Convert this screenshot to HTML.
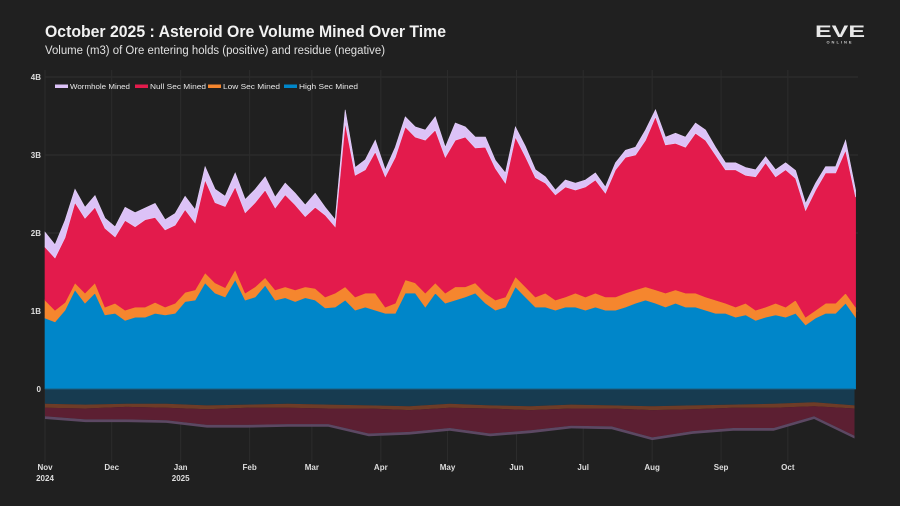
<!DOCTYPE html>
<html><head><meta charset="utf-8">
<style>
html,body{margin:0;padding:0;background:#202020;}
svg{display:block;}
text{font-family:"Liberation Sans",sans-serif;}
</style></head>
<body>
<svg id="chart" width="900" height="506" viewBox="0 0 900 506">
  <rect x="0" y="0" width="900" height="506" fill="#202020"/>
  <text x="45" y="37" font-size="17" font-weight="bold" fill="#f2f2f2" textLength="401" lengthAdjust="spacingAndGlyphs">October 2025 : Asteroid Ore Volume Mined Over Time</text>
  <text x="45" y="54" font-size="11.5" fill="#e0e0e0" textLength="340" lengthAdjust="spacingAndGlyphs">Volume (m3) of Ore entering holds (positive) and residue (negative)</text>
  <g>
    <text x="840" y="37" font-size="17" font-weight="bold" fill="#e8e8e8" text-anchor="middle" textLength="50" lengthAdjust="spacingAndGlyphs">EVE</text>
    <text x="840" y="43.5" font-size="4" font-weight="bold" fill="#cfcfcf" text-anchor="middle" letter-spacing="2">ONLINE</text>
  </g>
  <g id="grid"></g>
  <g id="areas"></g>
  <g id="axes"></g>
  <g id="legend"></g>
</svg>
<script>
// ---- data (values in billions of m3) ----
const stepDays = 4.5;
const highSec = [0.91,0.86,1.01,1.27,1.10,1.23,0.95,0.97,0.88,0.92,0.92,0.97,0.95,0.97,1.12,1.14,1.36,1.23,1.18,1.40,1.14,1.18,1.33,1.14,1.17,1.12,1.17,1.14,1.04,1.05,1.14,1.01,1.05,1.01,0.97,0.97,1.23,1.23,1.05,1.23,1.10,
 1.14,1.18,1.23,1.10,1.01,1.05,1.31,1.18,1.05,1.05,1.01,1.05,1.05,1.01,1.05,1.01,1.01,1.05,1.10,1.14,1.10,1.05,1.10,1.05,1.05,1.01,0.97,0.97,0.92,0.95,0.88,0.92,0.95,0.92,0.97,0.82,0.91,0.97,0.97,1.10,0.92];
const lowSec = [0.23,0.15,0.10,0.09,0.13,0.13,0.10,0.13,0.13,0.13,0.13,0.14,0.10,0.13,0.12,0.13,0.13,0.13,0.12,0.13,0.09,0.13,0.10,0.13,0.14,0.15,0.14,0.15,0.14,0.18,0.17,0.17,0.18,0.22,0.08,0.13,0.17,0.13,0.18,0.13,0.13,
 0.17,0.13,0.13,0.13,0.13,0.13,0.13,0.13,0.13,0.18,0.13,0.13,0.18,0.17,0.18,0.17,0.17,0.18,0.17,0.17,0.17,0.18,0.17,0.18,0.18,0.17,0.17,0.13,0.13,0.15,0.13,0.13,0.15,0.13,0.17,0.10,0.10,0.13,0.13,0.13,0.13];
const nullSec = [0.68,0.67,0.83,1.03,0.96,0.97,1.01,0.85,1.15,1.03,1.12,1.09,0.99,1.00,1.06,0.86,1.19,1.03,1.04,1.06,1.03,1.08,1.12,1.05,1.18,1.09,0.90,1.04,1.05,0.85,2.10,1.56,1.58,1.81,1.67,1.87,1.96,1.87,1.96,1.96,1.74,
 1.88,1.92,1.73,1.87,1.69,1.46,1.79,1.67,1.53,1.41,1.35,1.41,1.32,1.41,1.45,1.33,1.63,1.74,1.73,1.88,2.22,1.90,1.88,1.87,2.05,2.01,1.86,1.71,1.76,1.64,1.71,1.85,1.62,1.76,1.56,1.37,1.54,1.67,1.67,1.83,1.41];
const wormhole = [0.19,0.17,0.22,0.17,0.14,0.15,0.13,0.13,0.17,0.18,0.15,0.18,0.13,0.15,0.17,0.17,0.17,0.17,0.13,0.18,0.17,0.17,0.17,0.14,0.15,0.15,0.15,0.18,0.10,0.09,0.17,0.10,0.13,0.15,0.09,0.13,0.13,0.13,0.13,0.17,0.13,
 0.22,0.13,0.14,0.13,0.10,0.13,0.13,0.13,0.10,0.08,0.06,0.09,0.09,0.09,0.09,0.08,0.09,0.09,0.10,0.13,0.09,0.10,0.13,0.13,0.13,0.13,0.10,0.09,0.09,0.10,0.09,0.08,0.09,0.09,0.10,0.09,0.09,0.08,0.08,0.13,0.09];
// residue (negative), sampled every resStepDays
const resStepDays = 18.2;
const resHigh = [0.19,0.20,0.19,0.19,0.21,0.20,0.19,0.20,0.21,0.22,0.19,0.21,0.22,0.20,0.21,0.22,0.21,0.20,0.19,0.17,0.21];
const resLow  = [0.05,0.05,0.04,0.05,0.05,0.04,0.05,0.05,0.04,0.05,0.05,0.04,0.05,0.05,0.04,0.05,0.05,0.04,0.05,0.05,0.04];
const resNull = [0.11,0.14,0.16,0.16,0.20,0.22,0.21,0.20,0.32,0.28,0.26,0.32,0.26,0.22,0.23,0.35,0.28,0.26,0.26,0.13,0.35];
const resWh   = [0.035,0.035,0.035,0.035,0.035,0.035,0.035,0.035,0.035,0.035,0.035,0.035,0.035,0.035,0.035,0.035,0.035,0.035,0.035,0.035,0.035];
const yTicks = [0,1,2,3,4];
const yTickLabels = ["0","1B","2B","3B","4B"];
const monthDays = [0,30,61,92,120,151,181,212,242,273,304,334];
const monthLabels = ["Nov","Dec","Jan","Feb","Mar","Apr","May","Jun","Jul","Aug","Sep","Oct"];
const yearLabels = {0:"2024",61:"2025"};

// ---- scales ----
const X0 = 45, PX_PER_DAY = 2.224, Y0 = 389, PX_PER_B = 78;
const xScale = d => X0 + d * PX_PER_DAY;
const yScale = v => Y0 - v * PX_PER_B;
const NS = "http://www.w3.org/2000/svg";
function mk(tag, parent){ const e = document.createElementNS(NS, tag); parent.appendChild(e); return e; }

// ---- grid ----
const grid = document.getElementById('grid');
yTicks.forEach((t,i) => {
  if (t === 0) return;
  const l = mk('line', grid);
  l.setAttribute('x1', 45); l.setAttribute('x2', 858);
  l.setAttribute('y1', yScale(t)); l.setAttribute('y2', yScale(t));
  l.setAttribute('stroke', '#2f2f2f'); l.setAttribute('stroke-width', 1);
  
  
});
monthDays.forEach(d => {
  const l = mk('line', grid);
  l.setAttribute('x1', xScale(d)); l.setAttribute('x2', xScale(d));
  l.setAttribute('y1', 70); l.setAttribute('y2', 462);
  l.setAttribute('stroke', '#2c2c2c'); l.setAttribute('stroke-width', 1);
  
  
});

// ---- stacked areas ----
const areas = document.getElementById('areas');
function stackDraw(seriesList, colors, names, step, sign, strokes){
  const n = seriesList[0].length;
  let base = new Array(n).fill(0);
  seriesList.forEach((s, k) => {
    const top = base.map((b,i) => b + s[i]);
    let d = '';
    for (let i=0;i<n;i++) d += (i? 'L':'M') + xScale(i*step).toFixed(1) + ',' + yScale(sign*top[i]).toFixed(1);
    for (let i=n-1;i>=0;i--) d += 'L' + xScale(i*step).toFixed(1) + ',' + yScale(sign*base[i]).toFixed(1);
    d += 'Z';
    const p = mk('path', areas);
    p.setAttribute('d', d);
    p.setAttribute('fill', colors[k]);
    if (strokes) { p.setAttribute('stroke', strokes[k]); p.setAttribute('stroke-width', 0.6); }
    
    
    base = top;
  });
}
stackDraw([highSec, lowSec, nullSec, wormhole], ['#0086c9','#f5862e','#e31b4c','#dcc2f7'],
  ['high-sec-area','low-sec-area','null-sec-area','wormhole-area'], stepDays, 1,
  ['#0086c9','#f5862e','#e31b4c','#e6d2fa']);
stackDraw([resHigh, resLow, resNull, resWh], ['#173b50','#6e3c27','#5c1f32','#5c4863'],
  ['high-sec-residue','low-sec-residue','null-sec-residue','wormhole-residue'], resStepDays, -1, null);

// ---- axes ----
const axes = document.getElementById('axes');
const zl = mk('line', axes);
zl.setAttribute('x1', 45); zl.setAttribute('x2', xScale(364));
zl.setAttribute('y1', Y0); zl.setAttribute('y2', Y0);
zl.setAttribute('stroke', '#1a5d80'); zl.setAttribute('stroke-width', 1);


yTicks.forEach((t,i) => {
  const tx = mk('text', axes);
  tx.setAttribute('x', 41); tx.setAttribute('y', yScale(t) + 3);
  tx.setAttribute('text-anchor', 'end'); tx.setAttribute('font-size', 8);
  tx.setAttribute('font-weight', 'bold'); tx.setAttribute('fill', '#dddddd');
  tx.textContent = yTickLabels[i];
  
  
});
monthDays.forEach((d,i) => {
  const tx = mk('text', axes);
  tx.setAttribute('x', xScale(d)); tx.setAttribute('y', 470);
  tx.setAttribute('text-anchor', 'middle'); tx.setAttribute('font-size', 8);
  tx.setAttribute('font-weight', 'bold'); tx.setAttribute('fill', '#dddddd');
  tx.textContent = monthLabels[i];
  
  
  if (yearLabels[d]) {
    const ty = mk('text', axes);
    ty.setAttribute('x', xScale(d)); ty.setAttribute('y', 481);
    ty.setAttribute('text-anchor', 'middle'); ty.setAttribute('font-size', 8);
    ty.setAttribute('font-weight', 'bold'); ty.setAttribute('fill', '#dddddd');
    ty.textContent = yearLabels[d];
    
    
  }
});

// ---- legend ----
const legend = document.getElementById('legend');
const legendNames = ["Wormhole Mined","Null Sec Mined","Low Sec Mined","High Sec Mined"];
const legendColors = ['#dcc2f7','#e31b4c','#f5862e','#0086c9'];
const legendX = [55,135,208,284];
const legendW = [60,56,57,59];
legendNames.forEach((nm,i) => {
  const g = mk('g', legend);
  
  
  const r = mk('rect', g);
  r.setAttribute('x', legendX[i]); r.setAttribute('y', 84.5);
  r.setAttribute('width', 13); r.setAttribute('height', 3.5);
  r.setAttribute('fill', legendColors[i]);
  
  
  const t = mk('text', g);
  t.setAttribute('x', legendX[i] + 15); t.setAttribute('y', 89);
  t.setAttribute('font-size', 7.5); t.setAttribute('fill', '#e8e8e8');
  t.setAttribute('textLength', legendW[i]); t.setAttribute('lengthAdjust', 'spacingAndGlyphs');
  t.textContent = nm;
  
  
});
</script>
</body></html>
